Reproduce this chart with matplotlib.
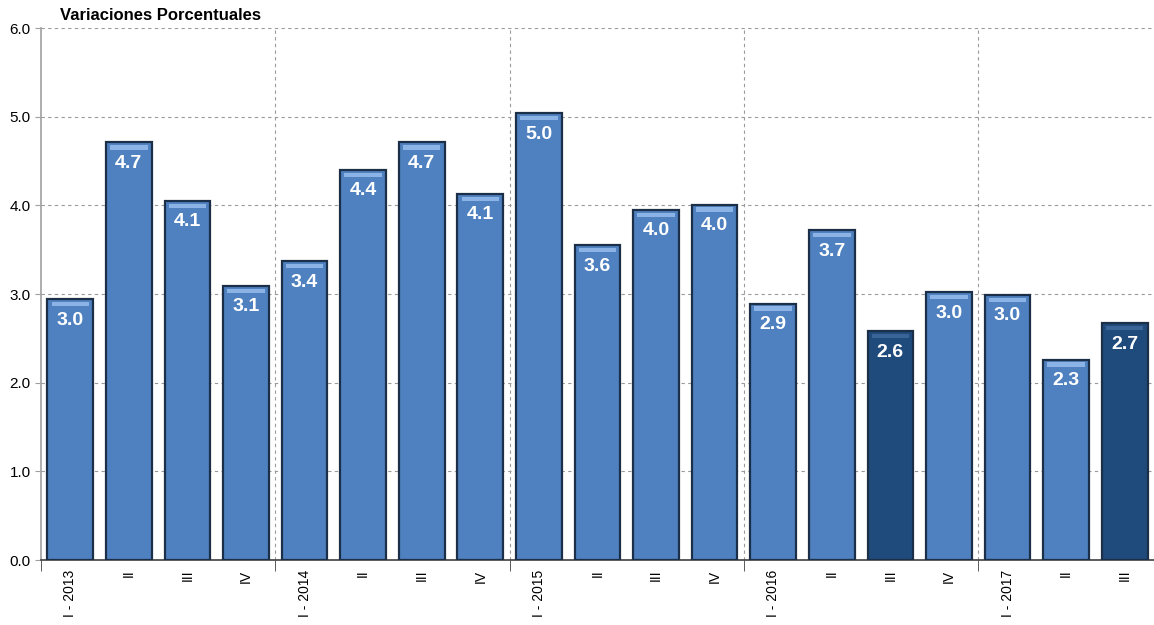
import matplotlib.pyplot as plt
import numpy as np

# quarters and values
categories = ["I - 2013", "II", "III", "IV",
              "I - 2014", "II", "III", "IV",
              "I - 2015", "II", "III", "IV",
              "I - 2016", "II", "III", "IV",
              "I - 2017", "II", "III"]
values = [2.94, 4.71, 4.05, 3.09,
          3.37, 4.40, 4.71, 4.13,
          5.04, 3.55, 3.95, 4.01,
          2.89, 3.72, 2.58, 3.02,
          2.99, 2.26, 2.67]
labels = ["3.0", "4.7", "4.1", "3.1",
          "3.4", "4.4", "4.7", "4.1",
          "5.0", "3.6", "4.0", "4.0",
          "2.9", "3.7", "2.6", "3.0",
          "3.0", "2.3", "2.7"]
highlight = [15, 19]  # 1-based positions of the darker bars

fnt = ["Liberation Sans Narrow", "Liberation Sans", "DejaVu Sans"]
plt.rcParams['font.family'] = fnt

fig = plt.figure(figsize=(11.54, 6.25), dpi=100)
ax = fig.add_axes([0.0355, 0.104, 0.9645, 0.851])

x = np.arange(len(values))
cols = ["#1F4A7C" if i + 1 in highlight else "#4F81C0" for i in range(len(values))]
tops = ["#3A6496" if i + 1 in highlight else "#8CB3E6" for i in range(len(values))]

ax.bar(x, values, width=0.78, color=cols, edgecolor="#1C2F48", linewidth=1.6, zorder=3)
# bevel highlight near the top of each bar
hl = np.array(values) - 0.08
ax.bar(x, [0.05] * len(values), bottom=hl, width=0.64, color=tops, linewidth=0, zorder=4)

for xi, v, lab in zip(x, values, labels):
    ax.annotate(lab, (xi, v), xytext=(0, -15), textcoords="offset points",
                ha="center", va="center", color="white", fontsize=14,
                fontweight="bold", zorder=5)

ax.set_xlim(-0.5, len(values) - 0.5)
ax.set_ylim(0, 6)
ax.set_yticks(np.arange(0, 6.1, 1.0))
ax.set_yticklabels([f"{t:.1f}" for t in np.arange(0, 6.1, 1.0)], fontsize=11)

ax.set_xticks(x)
ax.set_xticklabels(categories, rotation=90, fontsize=10)
ax.tick_params(axis="x", length=0, pad=7)
ax.set_xticks(np.arange(-0.5, len(values), 4), minor=True)
ax.tick_params(axis="x", which="minor", length=8, color="#404040")
ax.tick_params(axis="y", length=4, color="#A0A0A0")

ax.grid(axis="y", linestyle=(0, (3, 3)), color="#9A9A9A", linewidth=0.8, zorder=0)
for b in np.arange(3.5, len(values), 4):
    ax.axvline(b, linestyle=(0, (3, 3)), color="#9A9A9A", linewidth=0.8, zorder=0)

for s in ["top", "right"]:
    ax.spines[s].set_visible(False)
ax.spines["left"].set_color("#A0A0A0")
ax.spines["left"].set_linewidth(1.2)
ax.spines["bottom"].set_color("#404040")
ax.spines["bottom"].set_linewidth(1.2)

fig.text(0.052, 0.975, "Variaciones Porcentuales", fontsize=12, fontweight="bold",
         ha="left", va="center")

fig.savefig("out.png", dpi=100)
